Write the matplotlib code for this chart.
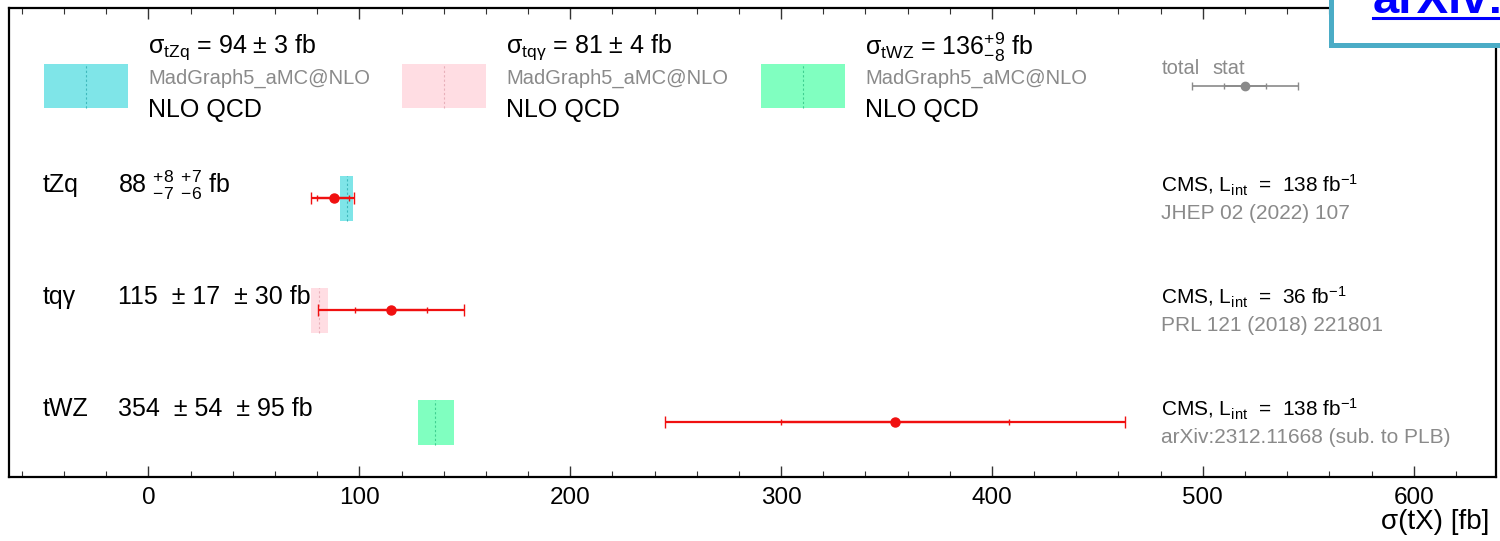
#!/usr/bin/env python3
import matplotlib
matplotlib.use("Agg")
import matplotlib.pyplot as plt
import matplotlib.transforms as mtransforms
from matplotlib.patches import Rectangle
from matplotlib.lines import Line2D
from matplotlib.ticker import MultipleLocator

plt.rcParams["font.family"] = ["Liberation Sans", "DejaVu Sans"]
plt.rcParams["mathtext.fontset"] = "custom"
plt.rcParams["mathtext.rm"] = "Liberation Sans"
plt.rcParams["mathtext.it"] = "Liberation Sans"
plt.rcParams["mathtext.bf"] = "Liberation Sans:bold"

processes = ["tZq", "tqγ", "tWZ"]
meas = [88, 115, 354]
stat_lo = [8, 17, 54]
stat_hi = [7, 17, 54]
tot_lo = [10.7, 34.5, 109]
tot_hi = [9.3, 34.5, 109]
meas_text = [
    r"88 ${}^{+8}_{-7}$ ${}^{+7}_{-6}$ fb",
    "115  ± 17  ± 30 fb",
    "354  ± 54  ± 95 fb",
]
lumi = [138, 36, 138]
refs = ["JHEP 02 (2022) 107", "PRL 121 (2018) 221801", "arXiv:2312.11668 (sub. to PLB)"]

# theory predictions
theo = [94, 81, 136]
theo_lo = [3, 4, 8]
theo_hi = [3, 4, 9]
theo_text = [
    r"σ$_{\rm tZq}$ = 94 ± 3 fb",
    r"σ$_{\rm tq\gamma}$ = 81 ± 4 fb",
    r"σ$_{\rm tWZ}$ = 136$^{+9}_{-8}$ fb",
]
theo_fill = ["#7fe5e8", "#ffdde3", "#80ffc0"]
theo_line = ["#3fb8bc", "#e8b0ba", "#3fcf90"]

# legend key for total / stat
key_center = 520
key_tot = 25
key_stat = 10

rows = [3, 2, 1]
red = "#f01010"
gray = "#8a8a8a"

fig = plt.figure(figsize=(15, 5.41), dpi=100)
ax = fig.add_axes([0.0062, 0.1183, 0.9911, 0.8669])
ax.set_xlim(-66, 639)
ax.set_ylim(0.51, 4.70)

trans = mtransforms.blended_transform_factory(ax.transAxes, ax.transData)

for i, y in enumerate(rows):
    # theory band
    lo = theo[i] - theo_lo[i]
    ax.add_patch(Rectangle((lo, y - 0.2), theo_lo[i] + theo_hi[i], 0.4,
                           facecolor=theo_fill[i], edgecolor="none", zorder=1))
    ax.plot([theo[i], theo[i]], [y - 0.2, y + 0.2], color=theo_line[i],
            lw=0.8, ls=(0, (2, 2)), zorder=2)
    # total and stat error bars
    ax.errorbar(meas[i], y, xerr=[[tot_lo[i]], [tot_hi[i]]], fmt="none",
                ecolor=red, elinewidth=1.6, capsize=4, capthick=1.0, zorder=3)
    ax.errorbar(meas[i], y, xerr=[[stat_lo[i]], [stat_hi[i]]], fmt="o",
                color=red, ms=6.5, elinewidth=1.6, capsize=2.5, capthick=1.0, zorder=4)
    # labels
    ax.text(0.0227, y + 0.115, processes[i], transform=trans, fontsize=18,
            va="center", ha="left")
    ax.text(0.0731, y + 0.115, meas_text[i], transform=trans, fontsize=18,
            va="center", ha="left")
    ax.text(0.7747, y + 0.115, r"CMS, L$_{\rm int}$  =  " + f"{lumi[i]} " + r"fb$^{-1}$",
            transform=trans, fontsize=15, va="center", ha="left")
    ax.text(0.7747, y - 0.135, refs[i], transform=trans, fontsize=15,
            color=gray, va="center", ha="left")

# theory legend
box_x = [0.0233, 0.2641, 0.5056]
for i in range(3):
    ax.add_patch(Rectangle((box_x[i], 0.7868), 0.0565, 0.0938, transform=ax.transAxes,
                           facecolor=theo_fill[i], edgecolor="none"))
    ax.plot([box_x[i] + 0.02825] * 2, [0.7868, 0.8806], transform=ax.transAxes,
            color=theo_line[i], lw=0.8, ls=(0, (2, 2)))
    tx = box_x[i] + 0.07
    ax.text(tx, 0.917, theo_text[i], transform=ax.transAxes, fontsize=18,
            va="center", ha="left")
    ax.text(tx, 0.851, "MadGraph5_aMC@NLO", transform=ax.transAxes, fontsize=14.5,
            color=gray, va="center", ha="left")
    ax.text(tx, 0.7825, "NLO QCD", transform=ax.transAxes, fontsize=18,
            va="center", ha="left")

# total / stat key
ax.errorbar(key_center, 4.0, xerr=key_tot, fmt="none", ecolor=gray,
            elinewidth=1.2, capsize=3, capthick=1.0)
ax.errorbar(key_center, 4.0, xerr=key_stat, fmt="o", color=gray, ms=6,
            elinewidth=1.2, capsize=2.5, capthick=1.0)
ax.text(0.7753, 0.872, "total", transform=ax.transAxes, fontsize=14.5,
        color=gray, va="center", ha="left")
ax.text(0.8096, 0.872, "stat", transform=ax.transAxes, fontsize=14.5,
        color=gray, va="center", ha="left")

# axes styling
ax.xaxis.set_major_locator(MultipleLocator(100))
ax.xaxis.set_minor_locator(MultipleLocator(20))
ax.tick_params(axis="x", which="both", direction="in", top=True, bottom=True,
               labelsize=17.5, pad=7, colors="#333333", labelcolor="black")
ax.tick_params(axis="x", which="major", length=8, width=1.0)
ax.tick_params(axis="x", which="minor", length=4, width=0.8)
ax.set_yticks([])
for s in ax.spines.values():
    s.set_linewidth(1.6)
fig.text(0.993, 0.036, "σ(tX) [fb]", fontsize=20, ha="right", va="center")

# link overlay box in the corner
fig.patches.append(Rectangle((1330.5 / 1500, 1 - 44.5 / 541), 0.2, 0.2,
                             transform=fig.transFigure, facecolor="white",
                             edgecolor="#4bacc6", lw=3.6, zorder=10))
fig.text(1373 / 1500, 1 - 13 / 541, "arXiv:", fontsize=34, fontweight="bold",
         color="#0000ff", ha="left", va="baseline", zorder=11)
fig.lines.append(Line2D([1373 / 1500, 1.0], [1 - 18 / 541] * 2,
                        transform=fig.transFigure, color="#0000ff", lw=2.2,
                        zorder=11))

fig.savefig("out.png", dpi=100)
